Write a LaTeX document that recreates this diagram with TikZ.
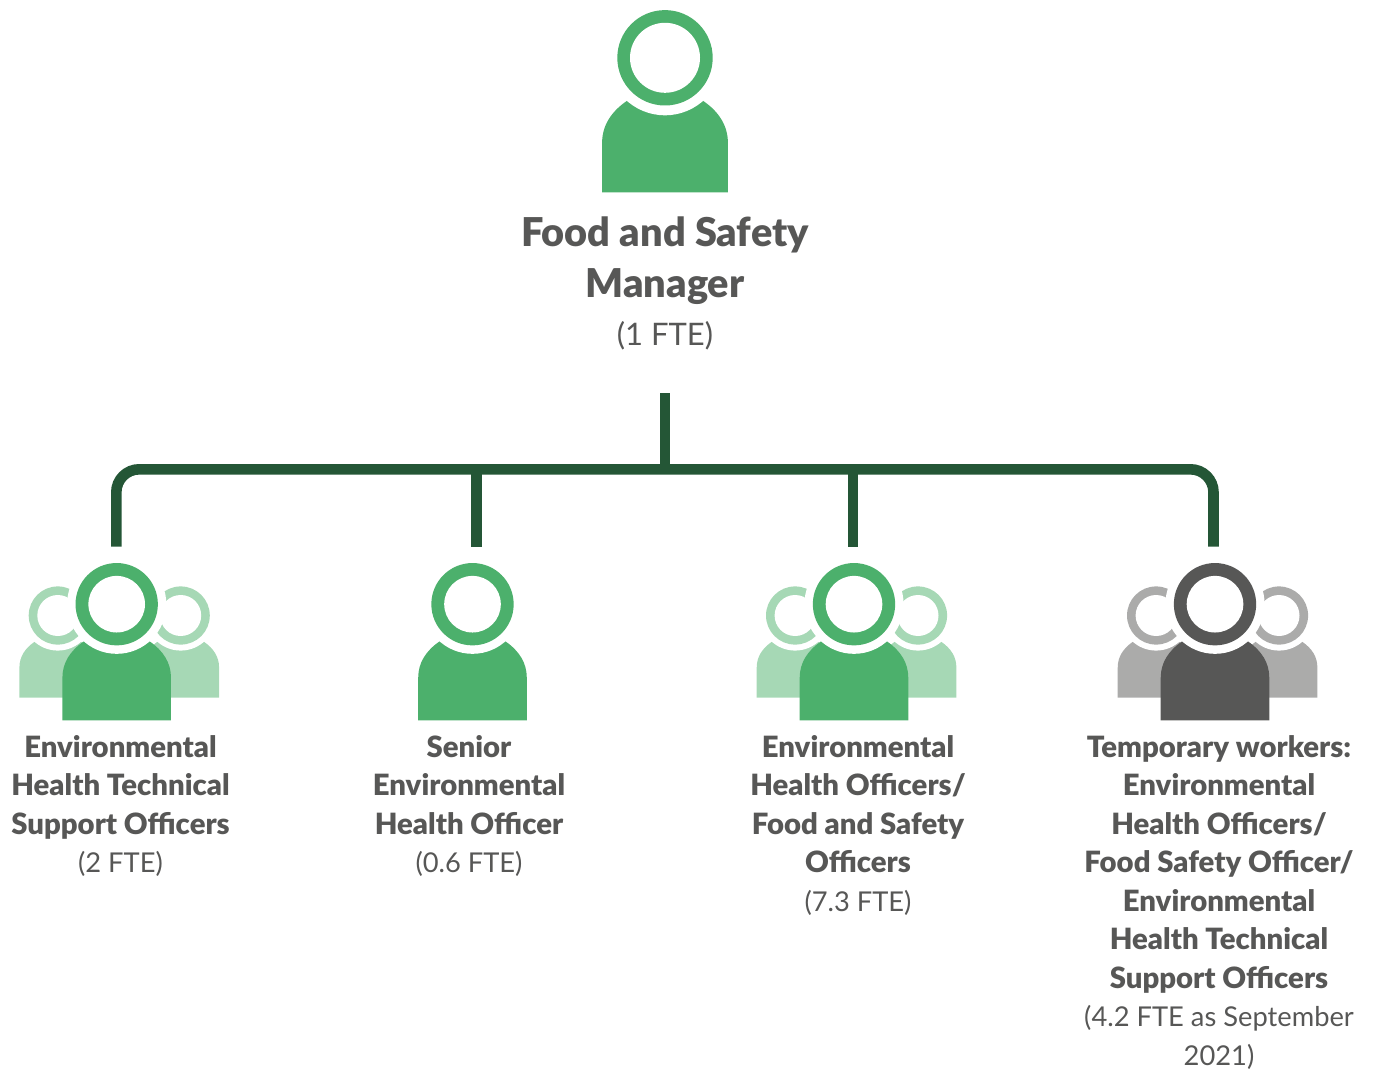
\documentclass[tikz,border=0pt]{standalone}
\usepackage{fontspec}
\setmainfont{Lato}[BoldFont={Lato Black}]
\definecolor{leafgreen}{HTML}{4CB06C}
\definecolor{palegreen}{HTML}{A6D8B5}
\definecolor{pinegreen}{HTML}{245636}
\definecolor{slategrey}{HTML}{575756}
\definecolor{palegrey}{HTML}{ABABAA}
\newcommand{\ftesize}{\fontsize{27.3}{38.5}\selectfont}
\tikzset{
  pics/person/.style 2 args={
    code={
      \fill[#1] (-62.9,134.5) -- (-62.9,85)
        .. controls (-62.9,68) and (-54,54) .. (-38.3,43.2)
        -- (38.3,43.2)
        .. controls (54,54) and (62.9,68) .. (62.9,85)
        -- (62.9,134.5) -- cycle;
      \fill[white] (0,0) circle (57.5);
      \fill[#1] (0,0) circle (47.7);
      \fill[white] (0,0) circle (#2);
    }
  },
  pics/team/.style 2 args={
    code={
      \pic[scale=.61] at (-58.9,11.3) {person={#2}{33.6}};
      \pic[scale=.61] at (64,11.3) {person={#2}{33.6}};
      \pic[scale=.863] at (0,0) {person={#1}{32.8}};
    }
  },
}
\begin{document}
\begin{tikzpicture}[
  x=1pt,
  y=-1pt,
  link/.style = {
    draw=pinegreen,
    line width=10.6pt
  },
  rolelabel/.style = {
    anchor=north,
    align=center,
    inner sep=0pt,
    text=slategrey,
    font=\fontsize{29.3}{38.5}\selectfont
  },
  headlabel/.style = {
    anchor=north,
    align=center,
    inner sep=0pt,
    text=slategrey,
    font=\fontsize{39.7}{51}\selectfont
  },
]
  \useasboundingbox (0,0) rectangle (1378,1070);

  \pic at (665,57.8) {person={leafgreen}{35}};
  \pic at (116.7,604.2) {team={leafgreen}{palegreen}};
  \pic[scale=.863] at (472.5,604.2) {person={leafgreen}{32.8}};
  \pic at (854,604.2) {team={leafgreen}{palegreen}};
  \pic at (1215,604.2) {team={slategrey}{palegrey}};

  \node (manager)[headlabel] at (665,217) {\textbf{Food and Safety}\\\textbf{Manager}\\[-3pt]{\fontsize{31}{38}\selectfont (1 FTE)}};
  \node (techofficers)[rolelabel] at (120.5,735) {\textbf{Environmental}\\\textbf{Health Technical}\\\textbf{Support Officers}\\{\ftesize (2 FTE)}};
  \node (senior)[rolelabel] at (469,735) {\textbf{Senior}\\\textbf{Environmental}\\\textbf{Health Officer}\\{\ftesize (0.6 FTE)}};
  \node (officers)[rolelabel] at (858,735) {\textbf{Environmental}\\\textbf{Health Officers/}\\\textbf{Food and Safety}\\\textbf{Officers}\\{\ftesize (7.3 FTE)}};
  \node (temps)[rolelabel] at (1219,735) {\textbf{Temporary workers:}\\\textbf{Environmental}\\\textbf{Health Officers/}\\\textbf{Food Safety Officer/}\\\textbf{Environmental}\\\textbf{Health Technical}\\\textbf{Support Officers}\\{\ftesize (4.2 FTE as September}\\{\ftesize 2021)}};

  \coordinate (stemtop) at (665,393);
  \coordinate (junction) at (665,469.3);
  \coordinate (techstub) at (116.3,546.5);
  \coordinate (seniorstub) at (476.5,546.5);
  \coordinate (officerstub) at (853,546.5);
  \coordinate (tempstub) at (1213.5,546.5);

  \draw[link] (stemtop) -- (junction);
  \draw[link,rounded corners=23pt] (techstub) |- (junction) -| (tempstub);
  \draw[link] (seniorstub) -- (seniorstub |- junction);
  \draw[link] (officerstub) -- (officerstub |- junction);
\end{tikzpicture}
\end{document}
